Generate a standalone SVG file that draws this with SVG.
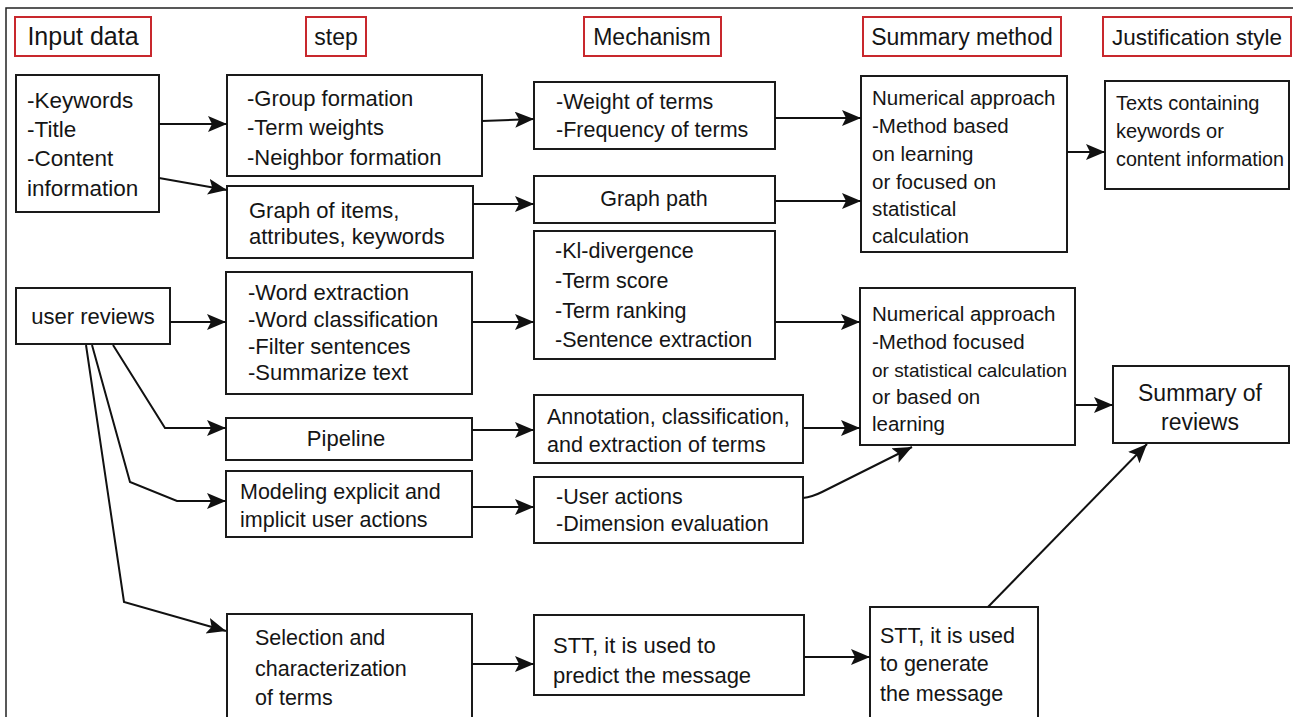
<svg xmlns="http://www.w3.org/2000/svg" width="1293" height="717" viewBox="0 0 1293 717">
<defs>
<marker id="arr" markerUnits="userSpaceOnUse" markerWidth="22" markerHeight="18" refX="19" refY="8" orient="auto">
<path d="M0,0 L19,8 L0,16 L4,8 z" fill="#111"/>
</marker>
<style>
.bg{fill:#fff}
.frame{fill:none;stroke:#222;stroke-width:1.5}
.hd{fill:#fff;stroke:#c8282d;stroke-width:2}
.bx{fill:#fff;stroke:#1a1a1a;stroke-width:2}
text{font-family:"Liberation Sans",Arial,sans-serif;fill:#151515}
.h{font-size:23px;text-anchor:middle}
.t22{font-size:22px}
.t21{font-size:21.5px}
.t20{font-size:20.5px}
.c{text-anchor:middle}
.ln{fill:none;stroke:#111;stroke-width:2;marker-end:url(#arr)}
</style>
</defs>
<rect class="bg" x="0" y="0" width="1293" height="717"/>
<path class="frame" d="M6,720 L6,8 L1296,8"/>

<g id="headers">
<g id="h-input"><rect class="hd" x="15" y="17" width="136" height="39"/><text class="h" x="83" y="45" style="font-size:25px">Input data</text></g>
<g id="h-step"><rect class="hd" x="306" y="17" width="60" height="39"/><text class="h" x="336" y="45">step</text></g>
<g id="h-mech"><rect class="hd" x="584" y="17" width="137" height="39"/><text class="h" x="652" y="45">Mechanism</text></g>
<g id="h-summary"><rect class="hd" x="863" y="17" width="198" height="39"/><text class="h" x="962" y="45">Summary method</text></g>
<g id="h-just"><rect class="hd" x="1103" y="17" width="188" height="39"/><text class="h" x="1197" y="45" style="font-size:22.5px">Justification style</text></g>
</g>

<g id="n1"><rect class="bx" x="16" y="75" width="143" height="137"/>
<text class="t22" x="27" y="108" style="font-size:22.5px">-Keywords</text>
<text class="t22" x="27" y="137" style="font-size:22.5px">-Title</text>
<text class="t22" x="27" y="166" style="font-size:22.5px">-Content</text>
<text class="t22" x="27" y="196" style="font-size:22.5px">information</text></g>

<g id="n2"><rect class="bx" x="227" y="75" width="255" height="101"/>
<text class="t22" x="247" y="106">-Group formation</text>
<text class="t22" x="247" y="135">-Term weights</text>
<text class="t22" x="247" y="165">-Neighbor formation</text></g>

<g id="n3"><rect class="bx" x="227" y="186" width="246" height="72"/>
<text class="t22" x="249" y="218">Graph of items,</text>
<text class="t22" x="249" y="244">attributes, keywords</text></g>

<g id="n4"><rect class="bx" x="534" y="82" width="241" height="67"/>
<text class="t21" x="556" y="109">-Weight of terms</text>
<text class="t21" x="556" y="137">-Frequency of terms</text></g>

<g id="n5"><rect class="bx" x="534" y="176" width="241" height="47"/>
<text class="t21 c" x="654" y="206">Graph path</text></g>

<g id="n6"><rect class="bx" x="534" y="231" width="241" height="128"/>
<text class="t21" x="555" y="258">-Kl-divergence</text>
<text class="t21" x="555" y="288">-Term score</text>
<text class="t21" x="555" y="318">-Term ranking</text>
<text class="t21" x="555" y="347">-Sentence extraction</text></g>

<g id="n7"><rect class="bx" x="861" y="76" width="206" height="176"/>
<text class="t20" x="872" y="105">Numerical approach</text>
<text class="t20" x="872" y="133">-Method based</text>
<text class="t20" x="872" y="161">on learning</text>
<text class="t20" x="872" y="189">or focused on</text>
<text class="t20" x="872" y="216">statistical</text>
<text class="t20" x="872" y="243">calculation</text></g>

<g id="n8"><rect class="bx" x="1105" y="81" width="184" height="108"/>
<text x="1116" y="110" style="font-size:20px">Texts containing</text>
<text x="1116" y="138" style="font-size:20px">keywords or</text>
<text x="1116" y="166" style="font-size:20px" textLength="168" lengthAdjust="spacingAndGlyphs">content information</text></g>

<g id="n9"><rect class="bx" x="16" y="288" width="154" height="56"/>
<text class="t22 c" x="93" y="324">user reviews</text></g>

<g id="n10"><rect class="bx" x="226" y="272" width="246" height="122"/>
<text class="t22" x="248" y="300">-Word extraction</text>
<text class="t22" x="248" y="327">-Word classification</text>
<text class="t22" x="248" y="354">-Filter sentences</text>
<text class="t22" x="248" y="380">-Summarize text</text></g>

<g id="n11"><rect class="bx" x="226" y="418" width="246" height="42"/>
<text class="t22 c" x="346" y="446">Pipeline</text></g>

<g id="n12"><rect class="bx" x="226" y="471" width="246" height="66"/>
<text class="t21" x="240" y="499">Modeling explicit and</text>
<text class="t21" x="240" y="527">implicit user actions</text></g>

<g id="n13"><rect class="bx" x="534" y="395" width="269" height="68"/>
<text class="t21" x="547" y="424">Annotation, classification,</text>
<text class="t21" x="547" y="452">and extraction of terms</text></g>

<g id="n14"><rect class="bx" x="534" y="477" width="269" height="66"/>
<text class="t21" x="556" y="504">-User actions</text>
<text class="t21" x="556" y="531">-Dimension  evaluation</text></g>

<g id="n15"><rect class="bx" x="860" y="288" width="215" height="157"/>
<text class="t20" x="872" y="321">Numerical approach</text>
<text class="t20" x="872" y="349">-Method focused</text>
<text x="872" y="377" style="font-size:19px" textLength="195" lengthAdjust="spacingAndGlyphs">or statistical calculation</text>
<text class="t20" x="872" y="404">or based on</text>
<text class="t20" x="872" y="431">learning</text></g>

<g id="n16"><rect class="bx" x="1113" y="366" width="176" height="77"/>
<text class="c" x="1200" y="401" style="font-size:23px">Summary of</text>
<text class="c" x="1200" y="430" style="font-size:23px">reviews</text></g>

<g id="n17"><rect class="bx" x="227" y="614" width="245" height="110"/>
<text class="t21" x="255" y="645">Selection and</text>
<text class="t21" x="255" y="676">characterization</text>
<text class="t21" x="255" y="705">of terms</text></g>

<g id="n18"><rect class="bx" x="534" y="615" width="270" height="80"/>
<text class="t22" x="553" y="653">STT, it is used to</text>
<text class="t22" x="553" y="683">predict the message</text></g>

<g id="n19"><rect class="bx" x="870" y="607" width="168" height="117"/>
<text class="t21" x="880" y="643">STT, it is used</text>
<text class="t21" x="880" y="671">to generate</text>
<text class="t21" x="880" y="701">the message</text></g>

<g id="connectors">
<path class="ln" d="M159,124 L227,124"/>
<path class="ln" d="M159,178 L227,190"/>
<path class="ln" d="M482,121 L534,119"/>
<path class="ln" d="M473,204 L534,204"/>
<path class="ln" d="M775,118 L861,118"/>
<path class="ln" d="M775,201 L861,201"/>
<path class="ln" d="M1067,152 L1105,152"/>
<path class="ln" d="M170,322 L226,322"/>
<path class="ln" d="M472,322 L534,322"/>
<path class="ln" d="M775,322 L860,322"/>
<path class="ln" d="M113,345 L165,428 L226,428"/>
<path class="ln" d="M92,345 L130,482 L177,501 L226,501"/>
<path class="ln" d="M86,345 L124,602 L226,631"/>
<path class="ln" d="M472,430 L534,430"/>
<path class="ln" d="M472,507 L534,507"/>
<path class="ln" d="M803,428 L860,428"/>
<path class="ln" d="M803,498 Q812,497 822,492 L912,447"/>
<path class="ln" d="M1075,405 L1113,405"/>
<path class="ln" d="M988,607 L1147,444"/>
<path class="ln" d="M472,664 L534,664"/>
<path class="ln" d="M804,657 L870,657"/>
</g>
</svg>
